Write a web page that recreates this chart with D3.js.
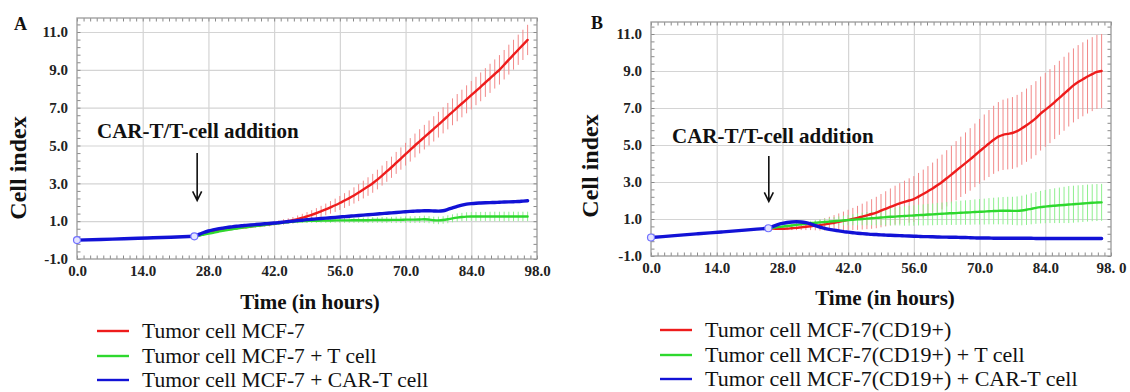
<!doctype html>
<html lang="en">
<head>
	<meta charset="utf-8">
	<title>Cell index</title>
	<script src="https://cdn.jsdelivr.net/npm/d3@7"></script>
	<style>
		body { margin: 0; background: #fff; }
	</style>
</head>
<body>
	<div id="svg"></div>
	<script>
		// sampling grid (hours) after CAR-T/T-cell addition, and before it
		var hours = [25,26,27,28,29,30,31,32,33,34,35,36,37,38,39,40,41,42,43,44,45,46,47,48,
			49,50,51,52,53,54,55,56,57,58,59,60,61,62,63,64,65,66,67,68,69,70,71,72,
			73,74,75,76,77,78,79,80,81,82,83,84,85,86,87,88,89,90,91,92,93,94,95,96];
		var preHours = [0, 5, 10, 15, 20, 25];

		var xTicks = [0, 14, 28, 42, 56, 70, 84, 98];
		var xLabelsA = ["0.0", "14.0", "28.0", "42.0", "56.0", "70.0", "84.0", "98.0"];
		var xLabelsB = ["0.0", "14.0", "28.0", "42.0", "56.0", "70.0", "84.0", "98. 0"];
		var yTicks = [-1, 1, 3, 5, 7, 9, 11];
		var yLabels = ["-1.0", "1.0", "3.0", "5.0", "7.0", "9.0", "11.0"];

		var legendA = ["Tumor cell MCF-7", "Tumor cell MCF-7 + T cell", "Tumor cell MCF-7 + CAR-T cell"];
		var legendB = ["Tumor cell MCF-7(CD19+)", "Tumor cell MCF-7(CD19+) + T cell", "Tumor cell MCF-7(CD19+) + CAR-T cell"];

		// panel A
		var aPre = [0.00, 0.03, 0.07, 0.11, 0.15, 0.20];
		var aRed = [0.20,0.25,0.32,0.38,0.43,0.48,0.52,0.56,0.60,0.63,0.66,0.69,0.72,0.75,0.78,0.81,0.84,0.88,0.92,0.96,
			1.00,1.05,1.11,1.18,1.25,1.33,1.42,1.52,1.62,1.73,1.84,1.96,2.09,2.22,2.36,2.51,2.67,2.83,
			3.00,3.20,3.41,3.63,3.85,4.08,4.31,4.54,4.77,5.00,5.22,5.44,5.66,5.88,6.10,6.33,6.55,6.78,
			7.00,7.22,7.44,7.66,7.88,8.10,8.33,8.55,8.78,9.00,9.27,9.54,9.80,10.06,10.32,10.58];
		var aRedSd = [0.04,0.04,0.05,0.05,0.05,0.06,0.06,0.06,0.07,0.07,
			0.08,0.08,0.09,0.09,0.10,0.10,0.11,0.12,0.13,0.14,
			0.15,0.17,0.19,0.21,0.23,0.25,0.27,0.29,0.31,0.33,
			0.35,0.37,0.39,0.41,0.43,0.45,0.47,0.49,0.50,0.52,
			0.53,0.55,0.56,0.58,0.59,0.60,0.62,0.63,0.64,0.65,
			0.66,0.67,0.68,0.69,0.70,0.71,0.72,0.73,0.74,0.75,
			0.75,0.76,0.76,0.77,0.77,0.78,0.78,0.79,0.79,0.80,0.80,0.80];
		var aGreen = [0.20,0.24,0.29,0.34,0.39,0.44,0.49,0.53,0.57,0.61,0.65,0.68,0.71,0.74,0.77,0.80,0.83,0.86,0.89,0.92,
			0.95,0.97,0.99,1.00,1.01,1.02,1.02,1.03,1.03,1.03,1.04,1.04,1.04,1.04,1.05,1.05,1.05,1.05,
			1.06,1.06,1.06,1.06,1.07,1.07,1.07,1.08,1.08,1.08,1.09,1.10,1.08,1.05,1.04,1.06,1.10,1.15,
			1.19,1.22,1.24,1.25,1.25,1.25,1.25,1.25,1.25,1.25,1.25,1.25,1.25,1.25,1.25,1.25];
		var aGreenSd = [0.03,0.03,0.03,0.04,0.04,0.04,0.04,0.05,0.05,0.05,
			0.05,0.06,0.06,0.06,0.07,0.07,0.07,0.08,0.08,0.08,
			0.09,0.09,0.10,0.10,0.10,0.11,0.11,0.11,0.12,0.12,
			0.12,0.13,0.13,0.13,0.14,0.14,0.14,0.15,0.15,0.15,
			0.16,0.16,0.16,0.17,0.17,0.17,0.18,0.18,0.18,0.19,
			0.19,0.19,0.20,0.20,0.21,0.21,0.22,0.22,0.23,0.23,
			0.24,0.24,0.24,0.25,0.25,0.25,0.25,0.25,0.25,0.25,0.25,0.25];
		var aBlue = [0.20,0.30,0.40,0.48,0.54,0.59,0.63,0.67,0.70,0.73,0.76,0.78,0.80,0.82,0.84,0.86,0.88,0.90,0.92,0.95,
			0.98,1.00,1.03,1.05,1.08,1.10,1.12,1.14,1.16,1.18,1.20,1.22,1.24,1.26,1.28,1.30,1.32,1.34,
			1.36,1.38,1.40,1.42,1.44,1.46,1.48,1.50,1.52,1.53,1.54,1.55,1.55,1.54,1.53,1.55,1.62,1.70,
			1.78,1.85,1.90,1.93,1.95,1.96,1.97,1.98,1.99,2.00,2.01,2.02,2.03,2.04,2.06,2.08];

		// panel B
		var bPre = [0.00, 0.10, 0.20, 0.30, 0.40, 0.50];
		var bRed = [0.50,0.48,0.47,0.47,0.48,0.50,0.52,0.55,0.58,0.61,0.64,0.67,0.71,0.75,0.80,0.85,0.90,0.95,1.00,1.06,
			1.13,1.20,1.27,1.35,1.45,1.55,1.65,1.75,1.84,1.92,2.00,2.08,2.21,2.35,2.50,2.65,2.82,3.00,
			3.20,3.40,3.61,3.82,4.02,4.22,4.44,4.66,4.87,5.08,5.28,5.45,5.55,5.60,5.65,5.75,5.90,6.07,
			6.25,6.45,6.70,6.90,7.10,7.32,7.55,7.77,8.00,8.22,8.40,8.55,8.70,8.83,8.95,9.00];
		var bRedSd = [0.05,0.05,0.06,0.07,0.08,0.10,0.12,0.15,0.18,0.21,
			0.25,0.29,0.33,0.37,0.41,0.45,0.50,0.55,0.60,0.65,
			0.70,0.75,0.80,0.85,0.90,0.95,1.00,1.05,1.10,1.15,
			1.20,1.24,1.28,1.32,1.36,1.40,1.44,1.48,1.52,1.56,
			1.60,1.63,1.66,1.69,1.72,1.75,1.78,1.81,1.84,1.87,
			1.90,1.92,1.94,1.96,1.97,1.98,1.99,2.00,2.00,2.00,
			2.00,2.00,2.00,2.00,2.00,2.00,2.00,2.00,2.00,2.00,2.00,2.00];
		var bGreen = [0.50,0.53,0.56,0.59,0.62,0.65,0.68,0.71,0.74,0.77,0.80,0.82,0.84,0.86,0.88,0.90,0.92,0.94,0.96,0.98,
			1.00,1.02,1.04,1.06,1.08,1.10,1.12,1.13,1.15,1.16,1.18,1.19,1.21,1.22,1.24,1.25,1.27,1.28,
			1.30,1.31,1.32,1.34,1.35,1.36,1.38,1.39,1.40,1.42,1.43,1.44,1.45,1.45,1.44,1.44,1.46,1.50,
			1.55,1.60,1.64,1.67,1.70,1.72,1.74,1.76,1.78,1.80,1.82,1.84,1.86,1.88,1.89,1.90];
		var bGreenSd = [0.04,0.05,0.06,0.07,0.08,0.09,0.10,0.11,0.12,0.13,
			0.14,0.16,0.18,0.20,0.22,0.24,0.26,0.28,0.30,0.32,
			0.34,0.36,0.38,0.40,0.42,0.44,0.46,0.48,0.50,0.52,
			0.54,0.55,0.56,0.57,0.58,0.59,0.60,0.61,0.62,0.63,
			0.64,0.65,0.66,0.67,0.68,0.69,0.70,0.71,0.72,0.73,
			0.74,0.75,0.76,0.78,0.80,0.82,0.84,0.86,0.88,0.90,
			0.92,0.94,0.96,0.98,1.00,1.00,1.00,1.00,1.00,1.00,1.00,1.00];
		var bBlue = [0.50,0.60,0.69,0.76,0.81,0.84,0.85,0.84,0.80,0.73,0.64,0.56,0.49,0.44,0.40,0.36,0.32,0.29,0.26,0.23,
			0.21,0.19,0.17,0.16,0.14,0.13,0.12,0.11,0.10,0.09,0.08,0.07,0.06,0.05,0.05,0.04,0.03,0.02,
			0.02,0.01,0.01,0.00,0.00,-0.01,-0.02,-0.03,-0.03,-0.03,-0.04,-0.04,-0.04,-0.04,-0.04,-0.04,-0.04,-0.04,
			-0.04,-0.05,-0.05,-0.05,-0.05,-0.05,-0.05,-0.05,-0.05,-0.05,-0.05,-0.05,-0.05,-0.05,-0.05,-0.05];

		var red = "#ee1c1c", green = "#2ed82e", blue = "#1212d6";
		var redBar = "#f28a8a", greenBar = "#8fef8f";
		var serif = "'Liberation Serif', 'Times New Roman', serif";

		var svg = d3.select("#svg").append("svg").attr("width", 1130).attr("height", 392)
			.attr("font-family", serif).style("display", "block");

		var panels = [
			{ tag: "A", tagX: 14, tagY: 30, x0: 77, x1: 537, top: 18, yLo: 259, yHi: 32, bottom: 259,
				xLabels: xLabelsA, pre: aPre, red: aRed, redSd: aRedSd, green: aGreen, greenSd: aGreenSd, blue: aBlue,
				yTitleX: 26, yTitleY: 168, xTitleX: 310, xTitleY: 309, arrowH: 25.6, arrowTop: 4.6, arrowBot: 2.1,
				noteX: 97, noteY: 138, legend: legendA, legX: 97, legRows: [331, 356, 380], legFont: 21.5 },
			{ tag: "B", tagX: 591, tagY: 29, x0: 651, x1: 1111, top: 22, yLo: 256, yHi: 34, bottom: 256,
				xLabels: xLabelsB, pre: bPre, red: bRed, redSd: bRedSd, green: bGreen, greenSd: bGreenSd, blue: bBlue,
				yTitleX: 598, yTitleY: 166, xTitleX: 885, xTitleY: 305, arrowH: 25.1, arrowTop: 4.4, arrowBot: 1.95,
				noteX: 672, noteY: 143, legend: legendB, legX: 660, legRows: [330, 355, 379], legFont: 22 }
		];

		panels.forEach(drawPanel);

		function drawPanel(p) {
			var x = d3.scaleLinear().domain([0, 98]).range([p.x0, p.x1]);
			var y = d3.scaleLinear().domain([-1, 11]).range([p.yLo, p.yHi]);
			var h = p.bottom - p.top, w = p.x1 - p.x0;
			var g = svg.append("g");

			g.append("rect").attr("x", p.x0).attr("y", p.top).attr("width", w).attr("height", h)
				.attr("fill", "#fff");

			// grid lines
			g.append("g").attr("class", "grid").attr("transform", "translate(0," + p.bottom + ")")
				.call(d3.axisBottom(x).tickValues(xTicks.slice(1, -1)).tickSize(-h).tickFormat(""));
			g.append("g").attr("class", "grid").attr("transform", "translate(" + p.x0 + ",0)")
				.call(d3.axisLeft(y).tickValues(yTicks.slice(1)).tickSize(-w).tickFormat(""));
			g.selectAll(".grid .domain").remove();
			g.selectAll(".grid line").attr("stroke", "#d4d4d4").attr("stroke-width", 1.2);

			// minor ticks on all four sides of the frame
			var xMinor = d3.range(0, 98.01, 1.4), yMinor = d3.range(-1, 11.8, 0.4);
			var yIn = yMinor.filter(function(v) { return y(v) > p.top; });
			var mt = g.append("g").attr("class", "minor");
			mt.append("g").attr("transform", "translate(0," + p.bottom + ")")
				.call(d3.axisBottom(x).tickValues(xMinor).tickSize(-3.5).tickFormat(""));
			mt.append("g").attr("transform", "translate(0," + p.top + ")")
				.call(d3.axisTop(x).tickValues(xMinor).tickSize(-3.5).tickFormat(""));
			mt.append("g").attr("transform", "translate(" + p.x0 + ",0)")
				.call(d3.axisLeft(y).tickValues(yIn).tickSize(-3.5).tickFormat(""));
			mt.append("g").attr("transform", "translate(" + p.x1 + ",0)")
				.call(d3.axisRight(y).tickValues(yIn).tickSize(-3.5).tickFormat(""));
			mt.selectAll(".domain").remove();
			mt.selectAll("line").attr("stroke", "#8a8a8a");

			g.append("rect").attr("x", p.x0).attr("y", p.top).attr("width", w).attr("height", h)
				.attr("fill", "none").attr("stroke", "#9a9a9a").attr("stroke-width", 1.3);

			// tick labels
			var xa = g.append("g").attr("transform", "translate(0," + p.bottom + ")")
				.call(d3.axisBottom(x).tickValues(xTicks).tickSize(0).tickPadding(6)
					.tickFormat(function(d, i) { return p.xLabels[i]; }));
			var ya = g.append("g").attr("transform", "translate(" + p.x0 + ",0)")
				.call(d3.axisLeft(y).tickValues(yTicks).tickSize(0).tickPadding(9)
					.tickFormat(function(d, i) { return yLabels[i]; }));
			[xa, ya].forEach(function(a) {
				a.attr("font-family", serif);
				a.select(".domain").remove();
				a.selectAll("text").attr("font-size", 15).attr("font-weight", "bold").attr("fill", "#222");
			});

			// error bars
			function bars(mean, sd, color) {
				g.append("g").selectAll("line").data(hours).enter().append("line")
					.attr("x1", function(d) { return x(d); }).attr("x2", function(d) { return x(d); })
					.attr("y1", function(d, i) { return y(mean[i] - sd[i]); })
					.attr("y2", function(d, i) { return y(mean[i] + sd[i]); })
					.attr("stroke", color).attr("stroke-width", 1);
			}
			bars(p.red, p.redSd, redBar);
			bars(p.green, p.greenSd, greenBar);

			var line = d3.line().curve(d3.curveMonotoneX)
				.x(function(d) { return x(d[0]); }).y(function(d) { return y(d[1]); });
			function series(xs, ys, color, width) {
				g.append("path").datum(d3.zip(xs, ys)).attr("d", line)
					.attr("fill", "none").attr("stroke", color).attr("stroke-width", width)
					.attr("stroke-linejoin", "round").attr("stroke-linecap", "round");
			}
			series(hours, p.red, red, 2.4);
			series(hours, p.green, green, 2.4);
			series(hours, p.blue, blue, 3.4);
			series(preHours, p.pre, blue, 3.4);

			// markers at start and at addition time
			g.selectAll(".mk").data([0, preHours.length - 1]).enter().append("circle")
				.attr("cx", function(i) { return x(preHours[i]); })
				.attr("cy", function(i) { return y(p.pre[i]); })
				.attr("r", 3.5).attr("fill", "#e4e4ff").attr("stroke", "#7070ff").attr("stroke-width", 1.2);

			// addition note and arrow
			g.append("text").attr("x", p.noteX).attr("y", p.noteY).attr("font-size", 21)
				.attr("font-weight", "bold").attr("fill", "#111").text("CAR-T/T-cell addition");
			var ax = x(p.arrowH), at = y(p.arrowTop), ab = y(p.arrowBot);
			g.append("path").attr("d", "M" + ax + "," + at + "V" + ab + "M" + (ax - 4.5) + "," + (ab - 9) + "L" + ax + "," + ab + "L" + (ax + 4.5) + "," + (ab - 9))
				.attr("fill", "none").attr("stroke", "#111").attr("stroke-width", 1.6);

			// axis titles and panel tag
			g.append("text").attr("x", p.tagX).attr("y", p.tagY).attr("font-size", 18)
				.attr("font-weight", "bold").attr("fill", "#111").text(p.tag);
			g.append("text").attr("transform", "translate(" + p.yTitleX + "," + p.yTitleY + ") rotate(-90)")
				.attr("text-anchor", "middle").attr("font-size", 24).attr("font-weight", "bold")
				.attr("fill", "#111").text("Cell index");
			g.append("text").attr("x", p.xTitleX).attr("y", p.xTitleY).attr("text-anchor", "middle")
				.attr("font-size", 21).attr("font-weight", "bold").attr("fill", "#111").text("Time (in hours)");

			// legend
			var colors = [red, green, blue];
			var lg = g.append("g").selectAll("g").data(p.legend).enter().append("g")
				.attr("transform", function(d, i) { return "translate(" + p.legX + "," + p.legRows[i] + ")"; });
			lg.append("line").attr("x1", 0).attr("x2", 32).attr("stroke", function(d, i) { return colors[i]; })
				.attr("stroke-width", 2.4);
			lg.append("text").attr("x", 45).attr("y", 7).attr("font-size", p.legFont).attr("fill", "#111")
				.text(function(d) { return d; });
		}
	</script>
</body>
</html>
